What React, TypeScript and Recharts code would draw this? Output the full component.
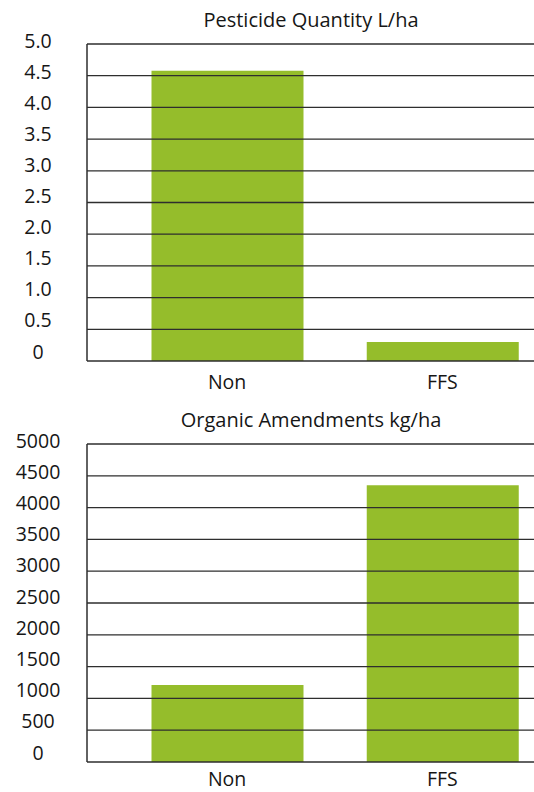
import { BarChart, Bar, XAxis, YAxis, ReferenceLine } from "recharts";

const categories = ["Non", "FFS"];

const pesticideValues = [4.58, 0.3];
const pesticideTicks = [0, 0.5, 1, 1.5, 2, 2.5, 3, 3.5, 4, 4.5, 5];
const pesticideTickLabels = ["0", "0.5", "1.0", "1.5", "2.0", "2.5", "3.0", "3.5", "4.0", "4.5", "5.0"];

const organicValues = [1210, 4350];
const organicTicks = [0, 500, 1000, 1500, 2000, 2500, 3000, 3500, 4000, 4500, 5000];
const organicTickLabels = ["0", "500", "1000", "1500", "2000", "2500", "3000", "3500", "4000", "4500", "5000"];

const BAR_COLOR = "#95bd2b";
const LINE_COLOR = "#2e2e2e";
const TEXT_COLOR = "#161616";
const FONT = "'Open Sans', 'Noto Sans', sans-serif";

interface PanelProps {
  title: string;
  values: number[];
  ticks: number[];
  tickLabels: string[];
  top: number;
  plotHeight: number;
  labelDy: number;
}

const Panel = ({ title, values, ticks, tickLabels, top, plotHeight, labelDy }: PanelProps) => {
  const data = categories.map((name, i) => ({ name, value: values[i] }));
  const max = ticks[ticks.length - 1];

  const YTick = (props: any) => {
    const { y, payload } = props;
    const idx = ticks.indexOf(payload.value);
    // labels drift a little above their gridlines toward the bottom
    const off = -4 - 6 * (1 - payload.value / max);
    return (
      <text x={38} y={y + off} textAnchor="middle" dominantBaseline="central" fontSize={19.5} fill={TEXT_COLOR} fontFamily={FONT}>
        {tickLabels[idx]}
      </text>
    );
  };

  const XTick = (props: any) => {
    const { x, y, payload } = props;
    return (
      <text x={x} y={y + labelDy} textAnchor="middle" dominantBaseline="central" fontSize={19.5} fill={TEXT_COLOR} fontFamily={FONT}>
        {payload.value}
      </text>
    );
  };

  return (
    <div style={{ position: "absolute", left: 0, top, width: 560, height: 400 }}>
      <div
        style={{
          position: "absolute",
          left: 0,
          top: 6,
          width: 622,
          textAlign: "center",
          fontFamily: FONT,
          fontSize: 20,
          color: TEXT_COLOR,
          lineHeight: "28px",
        }}
      >
        {title}
      </div>
      <BarChart
        width={550}
        height={44 + plotHeight + 36}
        data={data}
        margin={{ top: 44, right: 0, bottom: 6, left: 0 }}
        barSize={152}
      >
        <XAxis
          dataKey="name"
          height={30}
          padding={{ left: 32.5, right: 0 }}
          axisLine={{ stroke: LINE_COLOR, strokeWidth: 1.5 }}
          tickLine={false}
          tickSize={0}
          tickMargin={0}
          tick={<XTick />}
        />
        <YAxis
          width={87}
          domain={[0, max]}
          ticks={ticks}
          interval={0}
          axisLine={{ stroke: LINE_COLOR, strokeWidth: 1.5 }}
          tickLine={false}
          tick={<YTick />}
        />
        <Bar dataKey="value" fill={BAR_COLOR} isAnimationActive={false} />
        {ticks
          .filter((t) => t > 0)
          .map((t) => (
            <ReferenceLine key={t} y={t} stroke={LINE_COLOR} strokeWidth={1.3} />
          ))}
      </BarChart>
    </div>
  );
};

const App = () => {
  return (
    <div style={{ position: "absolute", left: 0, top: 0, width: 534, height: 792, overflow: "hidden", background: "#fff" }}>
      <Panel
        title="Pesticide Quantity L/ha"
        values={pesticideValues}
        ticks={pesticideTicks}
        tickLabels={pesticideTickLabels}
        top={0}
        plotHeight={317}
        labelDy={20}
      />
      <Panel
        title="Organic Amendments kg/ha"
        values={organicValues}
        ticks={organicTicks}
        tickLabels={organicTickLabels}
        top={400}
        plotHeight={318}
        labelDy={16}
      />
    </div>
  );
};

export default App;
